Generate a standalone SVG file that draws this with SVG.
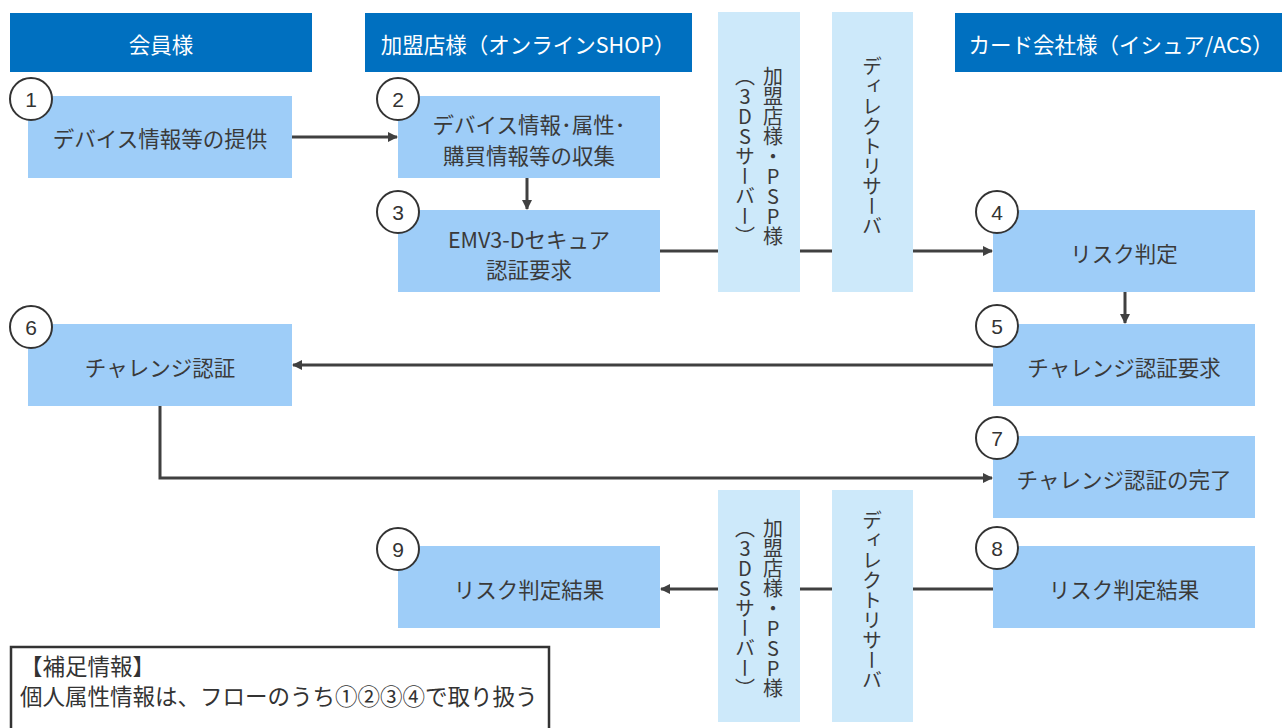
<svg xmlns="http://www.w3.org/2000/svg" width="1282" height="728" viewBox="0 0 1282 728">
<defs>
<style>
.hdr{fill:#0070C0}
.hdrt{fill:#fff;font-family:"Noto Sans CJK JP","Noto Sans",sans-serif;font-size:21.5px;text-anchor:middle;dominant-baseline:central}
.col{fill:#CDE9FA}
.node{fill:#9ECDF8}
.nt{fill:#3a3a3a;font-family:"Noto Sans CJK JP","Noto Sans",sans-serif;font-size:21.5px;text-anchor:middle;dominant-baseline:central}
.vt{fill:#3a3a3a;font-family:"Noto Sans CJK JP","Noto Sans",sans-serif;font-size:20px;writing-mode:vertical-rl;text-orientation:upright}
.num{fill:#fff;stroke:#333;stroke-width:2}
.numt{fill:#333;font-family:"Liberation Sans",Arial,sans-serif;font-size:21px;text-anchor:middle;dominant-baseline:central}
.ln{fill:none;stroke:#404040;stroke-width:3}
.note{fill:#333;font-family:"Noto Sans CJK JP","Noto Sans",sans-serif;font-size:22.5px}
</style>
<marker id="ah" markerWidth="10" markerHeight="10" refX="9" refY="5" orient="auto" markerUnits="userSpaceOnUse">
<path d="M0,0 L10,5 L0,10 z" fill="#404040"/>
</marker>
</defs>
<rect width="1282" height="728" fill="#fff"/>

<g id="headers">
<rect class="hdr" x="10" y="13" width="302" height="59"/>
<text class="hdrt" x="161" y="43">会員様</text>
<rect class="hdr" x="365" y="13" width="327" height="59"/>
<text class="hdrt" x="528" y="43">加盟店様（オンラインSHOP）</text>
<rect class="hdr" x="955" y="13" width="327" height="59"/>
<text class="hdrt" x="1121" y="43">カード会社様（イシュア/ACS）</text>
</g>

<g id="connectors">
<line class="ln" x1="292" y1="137" x2="397" y2="137" marker-end="url(#ah)"/>
<line class="ln" x1="527" y1="178" x2="527" y2="209" marker-end="url(#ah)"/>
<line class="ln" x1="660" y1="251" x2="992" y2="251" marker-end="url(#ah)"/>
<line class="ln" x1="1125" y1="292" x2="1125" y2="323" marker-end="url(#ah)"/>
<line class="ln" x1="993" y1="365" x2="293" y2="365" marker-end="url(#ah)"/>
<polyline class="ln" points="160,406 160,478 992,478" marker-end="url(#ah)"/>
<line class="ln" x1="993" y1="589" x2="661" y2="589" marker-end="url(#ah)"/>
</g>

<g id="col-3ds-top">
<rect class="col" x="718" y="12" width="82" height="280"/>
<text class="vt" x="773" y="66">加盟店様・PSP様</text>
<text class="vt" x="745" y="66">（3DSサーバー）</text>
</g>
<g id="col-ds-top">
<rect class="col" x="832" y="12" width="81" height="280"/>
<text class="vt" x="872" y="56">ディレクトリサーバ</text>
</g>
<g id="col-3ds-bottom">
<rect class="col" x="718" y="490" width="82" height="232"/>
<text class="vt" x="773" y="518">加盟店様・PSP様</text>
<text class="vt" x="745" y="518">（3DSサーバー）</text>
</g>
<g id="col-ds-bottom">
<rect class="col" x="832" y="490" width="81" height="232"/>
<text class="vt" x="872" y="510">ディレクトリサーバ</text>
</g>

<g id="node1">
<rect class="node" x="28" y="96" width="264" height="82"/>
<text class="nt" x="160" y="137">デバイス情報等の提供</text>
<circle class="num" cx="31" cy="99" r="21"/><text class="numt" x="31" y="99">1</text>
</g>
<g id="node2">
<rect class="node" x="398" y="96" width="262" height="82"/>
<text class="nt" x="529" y="123">デバイス情報･属性･</text>
<text class="nt" x="529" y="154">購買情報等の収集</text>
<circle class="num" cx="398" cy="99" r="21"/><text class="numt" x="398" y="99">2</text>
</g>
<g id="node3">
<rect class="node" x="398" y="210" width="262" height="82"/>
<text class="nt" x="529" y="238">EMV3-Dセキュア</text>
<text class="nt" x="529" y="268">認証要求</text>
<circle class="num" cx="398" cy="212" r="21"/><text class="numt" x="398" y="212">3</text>
</g>
<g id="node4">
<rect class="node" x="993" y="210" width="262" height="82"/>
<text class="nt" x="1124" y="252">リスク判定</text>
<circle class="num" cx="997" cy="212" r="21"/><text class="numt" x="997" y="212">4</text>
</g>
<g id="node5">
<rect class="node" x="993" y="324" width="262" height="82"/>
<text class="nt" x="1124" y="366">チャレンジ認証要求</text>
<circle class="num" cx="997" cy="326" r="21"/><text class="numt" x="997" y="326">5</text>
</g>
<g id="node6">
<rect class="node" x="28" y="324" width="264" height="82"/>
<text class="nt" x="160" y="366">チャレンジ認証</text>
<circle class="num" cx="31" cy="327" r="21"/><text class="numt" x="31" y="327">6</text>
</g>
<g id="node7">
<rect class="node" x="993" y="436" width="262" height="82"/>
<text class="nt" x="1124" y="478">チャレンジ認証の完了</text>
<circle class="num" cx="997" cy="438" r="21"/><text class="numt" x="997" y="438">7</text>
</g>
<g id="node8">
<rect class="node" x="993" y="546" width="262" height="82"/>
<text class="nt" x="1124" y="588">リスク判定結果</text>
<circle class="num" cx="997" cy="548" r="21"/><text class="numt" x="997" y="548">8</text>
</g>
<g id="node9">
<rect class="node" x="398" y="546" width="262" height="82"/>
<text class="nt" x="529" y="588">リスク判定結果</text>
<circle class="num" cx="398" cy="549" r="21"/><text class="numt" x="398" y="549">9</text>
</g>

<g id="note">
<rect x="11" y="647" width="538" height="90" fill="#fff" stroke="#333" stroke-width="2.5"/>
<text class="note" x="20" y="675">【補足情報】</text>
<text class="note" x="20" y="705">個人属性情報は、フローのうち①②③④で取り扱う</text>
</g>
</svg>
